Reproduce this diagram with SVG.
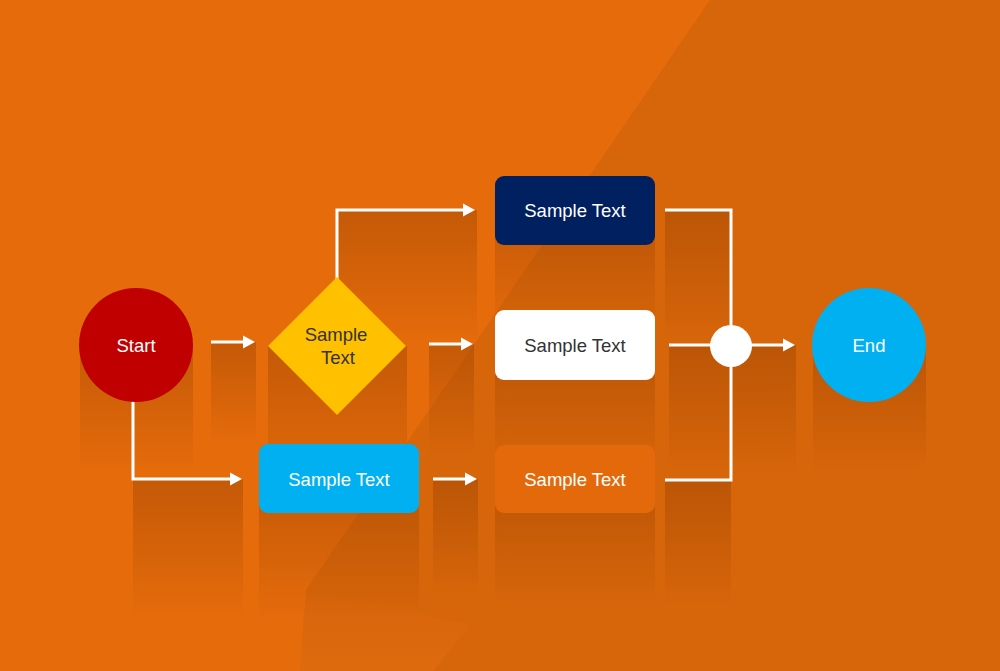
<svg xmlns="http://www.w3.org/2000/svg" width="1000" height="671" viewBox="0 0 1000 671">
  <defs>
    <linearGradient id="shd" x1="0" y1="0" x2="0" y2="1">
      <stop offset="0" stop-color="#8a3a00" stop-opacity="0.36"/>
      <stop offset="0.6" stop-color="#8a3a00" stop-opacity="0.15"/>
      <stop offset="1" stop-color="#8a3a00" stop-opacity="0"/>
    </linearGradient>
    <linearGradient id="patch" x1="0" y1="0" x2="0" y2="1">
      <stop offset="0" stop-color="#e26c10" stop-opacity="0"/>
      <stop offset="1" stop-color="#e26c10" stop-opacity="0.7"/>
    </linearGradient>
    <marker id="arr" markerUnits="userSpaceOnUse" markerWidth="13" markerHeight="15" refX="1" refY="7" orient="auto">
      <path d="M0,0.5 L12,7 L0,13.5 z" fill="#ffffff"/>
    </marker>
    <style>
      .lbl { font-family: "Liberation Sans", Arial, sans-serif; font-size: 18.5px; text-anchor: middle; fill: #ffffff; }
      .dark { fill: #333333; }
      .conn { fill: none; stroke: #ffffff; stroke-width: 3; }
      .shadow { fill: url(#shd); }
    </style>
  </defs>

  <!-- background -->
  <rect x="0" y="0" width="1000" height="671" fill="#e56b0b"/>
  <polygon points="710,0 1000,0 1000,671 300,671 306,590" fill="#d7650a"/>
  <polygon points="306,590 470,625 433,671 300,671" fill="url(#patch)"/>

  <!-- shadows -->
  <g id="shadows">
    <rect class="shadow" x="80" y="345" width="113" height="125"/>
    <rect class="shadow" x="211" y="342" width="45" height="100"/>
    <rect class="shadow" x="268" y="346" width="139" height="150"/>
    <rect class="shadow" x="337" y="210" width="140" height="130"/>
    <rect class="shadow" x="429" y="344" width="45" height="110"/>
    <rect class="shadow" x="133" y="479" width="110" height="135"/>
    <rect class="shadow" x="259" y="479" width="160" height="140"/>
    <rect class="shadow" x="433" y="479" width="45" height="115"/>
    <rect class="shadow" x="495" y="210" width="160" height="125"/>
    <rect class="shadow" x="495" y="345" width="160" height="120"/>
    <rect class="shadow" x="495" y="479" width="160" height="125"/>
    <rect class="shadow" x="665" y="210" width="66" height="130"/>
    <rect class="shadow" x="669" y="345" width="62" height="125"/>
    <rect class="shadow" x="731" y="345" width="65" height="130"/>
    <rect class="shadow" x="665" y="480" width="66" height="125"/>
    <rect class="shadow" x="813" y="345" width="113" height="125"/>
  </g>

  <!-- connectors -->
  <g id="connectors">
    <path class="conn" d="M211,342 H244" marker-end="url(#arr)"/>
    <path class="conn" d="M337,279 V210 H464" marker-end="url(#arr)"/>
    <path class="conn" d="M429,344 H462" marker-end="url(#arr)"/>
    <path class="conn" d="M133,400 V479 H231" marker-end="url(#arr)"/>
    <path class="conn" d="M433,479 H466" marker-end="url(#arr)"/>
    <path class="conn" d="M665,210 H731 V330"/>
    <path class="conn" d="M669,345 H715"/>
    <path class="conn" d="M665,480 H731 V362"/>
    <path class="conn" d="M750,345 H784" marker-end="url(#arr)"/>
  </g>

  <!-- nodes -->
  <g id="start">
    <circle cx="136" cy="345" r="57" fill="#c00000"/>
    <text class="lbl" x="136" y="352">Start</text>
  </g>
  <g id="decision">
    <polygon points="337,277 406,346 337,415 268,346" fill="#ffc000"/>
    <text class="lbl dark" x="336" y="341">Sample</text>
    <text class="lbl dark" x="338" y="364">Text</text>
  </g>
  <g id="box-navy">
    <rect x="495" y="176" width="160" height="69" rx="9" fill="#002060"/>
    <text class="lbl" x="575" y="217">Sample Text</text>
  </g>
  <g id="box-white">
    <rect x="495" y="310" width="160" height="70" rx="9" fill="#ffffff"/>
    <text class="lbl dark" x="575" y="352">Sample Text</text>
  </g>
  <g id="box-blue">
    <rect x="259" y="444" width="160" height="69" rx="9" fill="#00b0f0"/>
    <text class="lbl" x="339" y="486">Sample Text</text>
  </g>
  <g id="box-orange">
    <rect x="495" y="445" width="160" height="68" rx="9" fill="#e4690b"/>
    <text class="lbl" x="575" y="486">Sample Text</text>
  </g>
  <g id="junction">
    <circle cx="731" cy="346" r="21" fill="#ffffff"/>
  </g>
  <g id="end">
    <circle cx="869" cy="345" r="57" fill="#00b0f0"/>
    <text class="lbl" x="869" y="352">End</text>
  </g>
</svg>
